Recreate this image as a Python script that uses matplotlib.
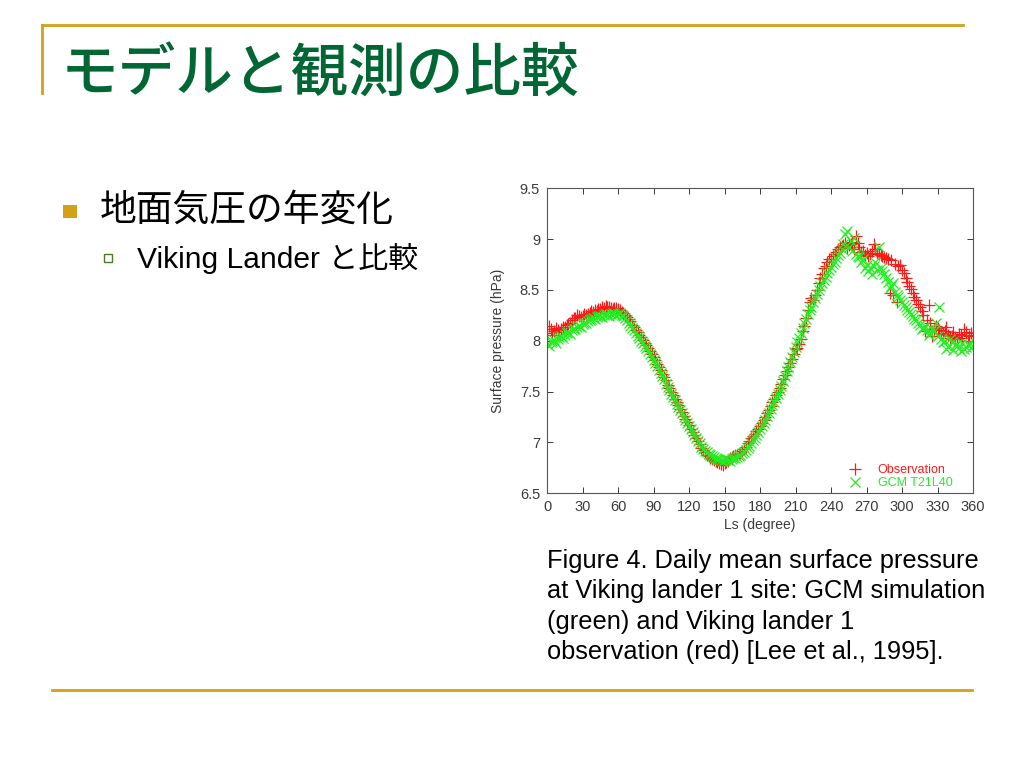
import matplotlib
matplotlib.use("Agg")
import matplotlib.pyplot as plt
from matplotlib.lines import Line2D
from matplotlib.patches import Rectangle

# Solar longitude grids (degree): main grid and the half-step grid in between
ls_deg = list(range(0, 361, 3))
ls_half = [1.5 + 3 * i for i in range(120)]

# Viking lander 1 observation (hPa)
obs_hpa = [
    8.08, 8.12, 8.10, 8.11, 8.12, 8.14, 8.17, 8.20, 8.22, 8.24,
    8.24, 8.25, 8.27, 8.28, 8.29, 8.31, 8.32, 8.33, 8.32, 8.32,
    8.31, 8.28, 8.25, 8.21, 8.16, 8.11, 8.06, 8.01, 7.96, 7.90,
    7.84, 7.77, 7.71, 7.64, 7.57, 7.50, 7.43, 7.37, 7.30, 7.23,
    7.17, 7.10, 7.04, 6.98, 6.93, 6.88, 6.85, 6.83, 6.81, 6.79,
    6.80, 6.82, 6.86, 6.88, 6.89, 6.92, 6.96, 7.01, 7.06, 7.11,
    7.16, 7.22, 7.29, 7.36, 7.43, 7.50, 7.58, 7.66, 7.74, 7.82,
    7.92, 7.97, 8.10, 8.22, 8.38, 8.40, 8.50, 8.62, 8.72, 8.78,
    8.80, 8.85, 8.90, 8.93, 8.96, 8.94, 8.97, 9.03, 8.92, 8.88,
    8.86, 8.85, 8.95, 8.86, 8.84, 8.82, 8.80, 8.79, 8.76, 8.74,
    8.70, 8.62, 8.54, 8.47, 8.40, 8.33, 8.25, 8.20, 8.18, 8.12,
    8.13, 8.08, 8.10, 8.06, 8.05, 8.04, 8.07, 8.03, 8.09, 8.05,
    8.06,
]
obs_hpa_half = [
    8.15, 8.06, 8.13, 8.09, 8.14, 8.16, 8.18, 8.22, 8.25, 8.23,
    8.26, 8.26, 8.29, 8.30, 8.31, 8.33, 8.34, 8.33, 8.31, 8.32,
    8.30, 8.27, 8.23, 8.19, 8.14, 8.09, 8.04, 7.98, 7.93, 7.87,
    7.81, 7.74, 7.67, 7.61, 7.54, 7.47, 7.40, 7.33, 7.26, 7.20,
    7.13, 7.07, 7.01, 6.95, 6.91, 6.87, 6.84, 6.82, 6.80, 6.78,
    6.81, 6.85, 6.87, 6.88, 6.90, 6.94, 6.99, 7.04, 7.08, 7.13,
    7.19, 7.25, 7.32, 7.40, 7.47, 7.54, 7.62, 7.70, 7.78, 7.87,
    7.93, 8.02, 8.15, 8.30, 8.42, 8.45, 8.57, 8.66, 8.74, 8.80,
    8.83, 8.87, 8.92, 8.94, 8.91, 8.95, 8.90, 8.96, 8.87, 8.84,
    8.83, 8.88, 8.90, 8.85, 8.83, 8.81, 8.47, 8.45, 8.38, 8.75,
    8.67, 8.58, 8.51, 8.43, 8.36, 8.29, 8.10, 8.35, 8.05, 8.15,
    8.11, 8.07, 8.14, 8.03, 8.09, 8.02, 8.06, 8.12, 8.00, 8.08,
]

# GCM T21L40 simulation (hPa)
gcm_hpa = [
    7.97, 7.99, 8.01, 8.02, 8.05, 8.06, 8.09, 8.11, 8.12, 8.15,
    8.17, 8.18, 8.20, 8.22, 8.23, 8.24, 8.25, 8.25, 8.26, 8.26,
    8.26, 8.25, 8.22, 8.18, 8.13, 8.08, 8.03, 7.98, 7.93, 7.87,
    7.81, 7.75, 7.68, 7.62, 7.55, 7.48, 7.42, 7.35, 7.29, 7.22,
    7.16, 7.10, 7.04, 6.99, 6.94, 6.91, 6.88, 6.86, 6.84, 6.83,
    6.83, 6.83, 6.84, 6.85, 6.87, 6.90, 6.93, 6.97, 7.02, 7.07,
    7.13, 7.19, 7.26, 7.33, 7.40, 7.48, 7.56, 7.65, 7.74, 7.84,
    7.94, 8.03, 8.13, 8.21, 8.30, 8.38, 8.46, 8.54, 8.60, 8.67,
    8.73, 8.78, 8.84, 8.90, 9.05, 8.92, 8.88, 8.85, 8.82, 8.80,
    8.75, 8.72, 8.74, 8.70, 8.72, 8.66, 8.58, 8.54, 8.48, 8.43,
    8.38, 8.33, 8.28, 8.24, 8.20, 8.16, 8.13, 8.11, 8.08, 8.10,
    8.05, 8.02, 8.00, 7.94, 7.99, 7.96, 7.93, 7.98, 7.94, 7.96,
    7.95,
]
gcm_hpa_half = [
    7.95, 8.00, 7.98, 8.04, 8.03, 8.08, 8.07, 8.12, 8.14, 8.14,
    8.18, 8.19, 8.21, 8.21, 8.24, 8.23, 8.26, 8.24, 8.27, 8.25,
    8.27, 8.24, 8.20, 8.15, 8.11, 8.05, 8.00, 7.95, 7.90, 7.84,
    7.78, 7.71, 7.65, 7.58, 7.52, 7.45, 7.38, 7.32, 7.25, 7.19,
    7.13, 7.07, 7.01, 6.96, 6.92, 6.89, 6.87, 6.85, 6.84, 6.82,
    6.84, 6.82, 6.85, 6.86, 6.88, 6.91, 6.95, 6.99, 7.04, 7.10,
    7.16, 7.22, 7.29, 7.37, 7.44, 7.52, 7.60, 7.70, 7.79, 7.89,
    7.99, 8.08, 8.18, 8.26, 8.33, 8.42, 8.50, 8.57, 8.63, 8.70,
    8.76, 8.81, 8.86, 8.95, 9.08, 8.98, 9.01, 8.83, 8.78, 8.72,
    8.69, 8.66, 8.78, 8.92, 8.69, 8.62, 8.52, 8.57, 8.45, 8.40,
    8.35, 8.30, 8.26, 8.21, 8.18, 8.12, 8.15, 8.06, 8.12, 8.18,
    8.33, 7.99, 7.92, 8.02, 7.91, 7.97, 7.90, 7.92, 7.97, 7.93,
]

x_ticks = [0, 30, 60, 90, 120, 150, 180, 210, 240, 270, 300, 330, 360]
y_ticks = [6.5, 7, 7.5, 8, 8.5, 9, 9.5]
y_tick_labels = ["6.5", "7", "7.5", "8", "8.5", "9", "9.5"]

gold = "#d4a017"
title_green = "#006633"
red = "#ff1a1a"
green = "#22ee22"
cjk = ["Noto Sans CJK JP", "DejaVu Sans"]
latin = ["Liberation Sans", "Noto Sans CJK JP"]

fig = plt.figure(figsize=(10.24, 7.68), dpi=100)

# slide decoration lines
fig.add_artist(Line2D([42 / 1024, 963 / 1024], [1 - 25 / 768, 1 - 25 / 768], color=gold, lw=2))
fig.add_artist(Line2D([42 / 1024, 42 / 1024], [1 - 25 / 768, 1 - 93 / 768], color=gold, lw=2))
fig.add_artist(Line2D([52 / 1024, 972 / 1024], [1 - 690 / 768, 1 - 690 / 768], color=gold, lw=2))

# title and bullets
fig.text(61 / 1024, 1 - 74 / 768, "モデルと観測の比較", family=cjk, fontsize=41.5,
         color=title_green, va="center", ha="left", weight="medium")
fig.add_artist(Rectangle((63 / 1024, 1 - 218 / 768), 14 / 1024, 13 / 768,
                         facecolor=gold, edgecolor="none"))
fig.text(100 / 1024, 1 - 210 / 768, "地面気圧の年変化", family=cjk, fontsize=26.5,
         color="black", va="center", ha="left")
fig.add_artist(Rectangle((104 / 1024, 1 - 262 / 768), 8 / 1024, 8 / 768,
                         facecolor="white", edgecolor="#4a7a2a", lw=1))
fig.text(137 / 1024, 1 - 258 / 768, "Viking Lander と比較", family=latin, fontsize=21.6,
         color="black", va="center", ha="left")

# caption
caption = ["Figure 4. Daily mean surface pressure",
           "at Viking lander 1 site: GCM simulation",
           "(green) and Viking lander 1",
           "observation (red) [Lee et al., 1995]."]
for i, line in enumerate(caption):
    fig.text(547 / 1024, 1 - (561 + 30.3 * i) / 768, line, family=latin, fontsize=18.3,
             color="black", va="center", ha="left")

# chart
ax = fig.add_axes([547 / 1024, 1 - 493.3 / 768, 426 / 1024, 305 / 768])
ax.plot(ls_deg, obs_hpa, linestyle="none", marker="+", color=red,
        markersize=8.5, markeredgewidth=0.9, label="Observation")
ax.plot(ls_half, obs_hpa_half, linestyle="none", marker="+", color=red,
        markersize=8.5, markeredgewidth=0.9)
ax.plot(ls_deg, gcm_hpa, linestyle="none", marker="x", color=green,
        markersize=7, markeredgewidth=0.9, label="GCM T21L40")
ax.plot(ls_half, gcm_hpa_half, linestyle="none", marker="x", color=green,
        markersize=7, markeredgewidth=0.9)

ax.set_xlim(0, 360)
ax.set_ylim(6.5, 9.5)
ax.set_xticks(x_ticks)
ax.set_yticks(y_ticks)
ax.set_yticklabels(y_tick_labels)
ax.tick_params(direction="in", top=True, right=True, length=4, width=0.7,
               labelsize=10.5, colors="#3a3a3a", pad=5)
for lab in ax.get_xticklabels() + ax.get_yticklabels():
    lab.set_family(latin)
for sp in ax.spines.values():
    sp.set_color("#555555")
    sp.set_linewidth(0.8)
ax.set_xlabel("Ls (degree)", family=latin, fontsize=10, color="#3a3a3a", labelpad=3)
ax.set_ylabel("Surface pressure (hPa)", family=latin, fontsize=10, color="#3a3a3a", labelpad=11)

leg = ax.legend(loc="lower right", frameon=False, handlelength=1.0, handletextpad=1.3,
                borderaxespad=0.2, labelspacing=0.08, prop={"family": latin, "size": 9},
                labelcolor=[red, green], bbox_to_anchor=(0.969, -0.012))

fig.savefig("out.png", dpi=100, facecolor="white")
